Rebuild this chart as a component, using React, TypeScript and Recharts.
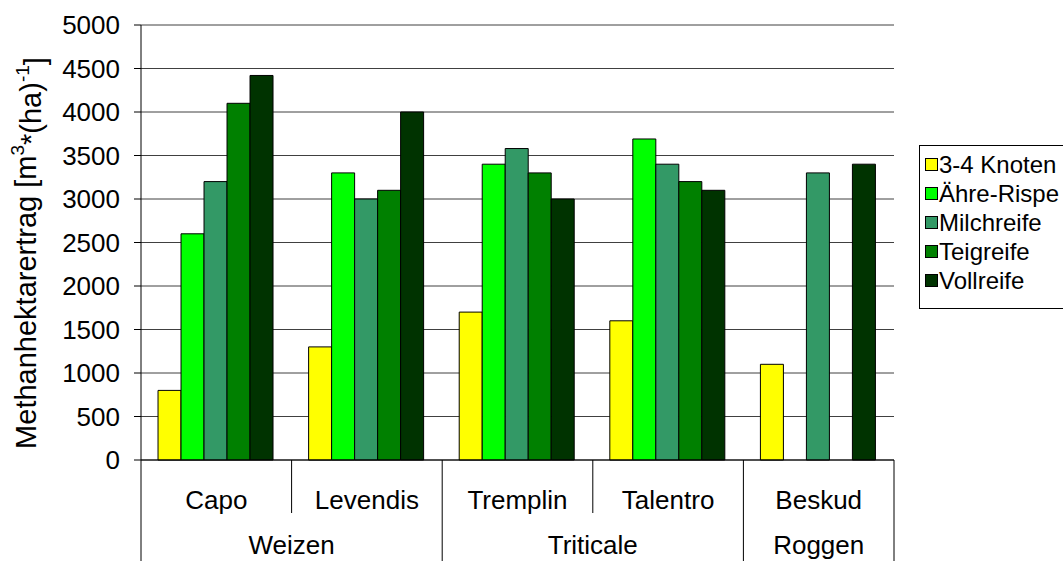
import { BarChart, Bar, XAxis, YAxis, CartesianGrid } from "recharts";

const categories = ["Capo", "Levendis", "Tremplin", "Talentro", "Beskud"];
const groups = ["Weizen", "Weizen", "Triticale", "Triticale", "Roggen"];

const seriesNames = ["3-4 Knoten", "Ähre-Rispe", "Milchreife", "Teigreife", "Vollreife"];
const seriesColors = ["#FFFF00", "#00FF00", "#339966", "#008000", "#003300"];

const knoten = [800, 1300, 1700, 1600, 1100];
const aehreRispe = [2600, 3300, 3400, 3690, null];
const milchreife = [3200, 3000, 3580, 3400, 3300];
const teigreife = [4100, 3100, 3300, 3200, null];
const vollreife = [4420, 4000, 3000, 3100, 3400];

const yTicks = [0, 500, 1000, 1500, 2000, 2500, 3000, 3500, 4000, 4500, 5000];

const W = 1063;
const H = 561;
const PLOT_LEFT = 141;
const PLOT_RIGHT = 894;
const PLOT_TOP = 25;
const PLOT_BOTTOM = 460;
const BAND = (PLOT_RIGHT - PLOT_LEFT) / categories.length;
const FONT = '"Liberation Sans", Arial, sans-serif';

const allSeries = [knoten, aehreRispe, milchreife, teigreife, vollreife];
const data = categories.map((name, i) => {
  const row: Record<string, string | number | null> = { name, group: groups[i] };
  seriesNames.forEach((s, k) => {
    row[s] = allSeries[k][i];
  });
  return row;
});

// two-level category axis: variety labels on top, crop group underneath
function CategoryTick(props: any) {
  const { x, y, index } = props;
  const isGroupStart = index === 0 || groups[index] !== groups[index - 1];
  const isLast = index === categories.length - 1;
  let span = 1;
  while (index + span < groups.length && groups[index + span] === groups[index]) span++;
  const left = x - BAND / 2;
  const right = x + BAND / 2;
  return (
    <g>
      <line x1={left} y1={y} x2={left} y2={isGroupStart ? H : y + 53} stroke="#000" />
      {isLast && <line x1={right} y1={y} x2={right} y2={H} stroke="#000" />}
      <text x={x} y={y + 49} textAnchor="middle" fontSize={26} fontFamily={FONT} fill="#000">
        {categories[index]}
      </text>
      {isGroupStart && (
        <text
          x={x + ((span - 1) * BAND) / 2}
          y={y + 94}
          textAnchor="middle"
          fontSize={26}
          fontFamily={FONT}
          fill="#000"
        >
          {groups[index]}
        </text>
      )}
    </g>
  );
}

function YTitle() {
  const cx = 26;
  const cy = 253;
  return (
    <text
      x={cx}
      y={cy}
      transform={`rotate(-90 ${cx} ${cy})`}
      textAnchor="middle"
      dominantBaseline="central"
      fontSize={29}
      fontFamily={FONT}
      fill="#000"
    >
      Methanhektarertrag [m
      <tspan dy="-0.45em" fontSize={19}>3</tspan>
      <tspan dy="0.45em">*(ha)</tspan>
      <tspan dy="-0.45em" fontSize={19}>-1</tspan>
      <tspan dy="0.45em">]</tspan>
    </text>
  );
}

function LegendBox() {
  return (
    <div
      style={{
        position: "absolute",
        left: 919,
        top: 145,
        width: 150,
        height: 164,
        border: "1px solid #000",
        boxSizing: "border-box",
        background: "#fff",
        fontFamily: FONT,
        fontSize: 24,
        paddingTop: 4,
      }}
    >
      {seriesNames.map((s, i) => (
        <div key={s} style={{ display: "flex", alignItems: "center", height: 29, paddingLeft: 5 }}>
          <span
            style={{
              width: 11,
              height: 11,
              background: seriesColors[i],
              border: "1px solid #000",
              marginRight: 1,
              flexShrink: 0,
            }}
          />
          <span style={{ whiteSpace: "nowrap" }}>{s}</span>
        </div>
      ))}
    </div>
  );
}

export default function App() {
  return (
    <div
      style={{
        position: "absolute",
        left: 0,
        top: 0,
        width: W,
        height: H,
        overflow: "hidden",
        background: "#fff",
      }}
    >
      <BarChart
        width={W}
        height={H}
        data={data}
        margin={{ top: PLOT_TOP, right: W - PLOT_RIGHT, bottom: 0, left: 0 }}
        barCategoryGap="11.3%"
        barGap={0}
      >
        <CartesianGrid horizontal vertical={false} stroke="#404040" strokeWidth={1} />
        <XAxis
          dataKey="name"
          height={H - PLOT_BOTTOM}
          tickLine={false}
          tickSize={0}
          tickMargin={0}
          axisLine={{ stroke: "#000" }}
          tick={<CategoryTick />}
          interval={0}
        />
        <YAxis
          width={PLOT_LEFT}
          domain={[0, 5000]}
          ticks={yTicks}
          interval={0}
          tickSize={7}
          tickMargin={14}
          tickLine={{ stroke: "#000" }}
          axisLine={{ stroke: "#000" }}
          tick={{ fontSize: 26, fontFamily: FONT, fill: "#000" }}
        />
        <YAxis
          yAxisId="border"
          orientation="right"
          width={0}
          domain={[0, 5000]}
          tick={false}
          tickLine={false}
          axisLine={{ stroke: "#999" }}
        />
        {seriesNames.map((s, i) => (
          <Bar
            key={s}
            dataKey={s}
            fill={seriesColors[i]}
            stroke="#000"
            strokeWidth={1}
            isAnimationActive={false}
          />
        ))}
        <YTitle />
      </BarChart>
      <LegendBox />
    </div>
  );
}
